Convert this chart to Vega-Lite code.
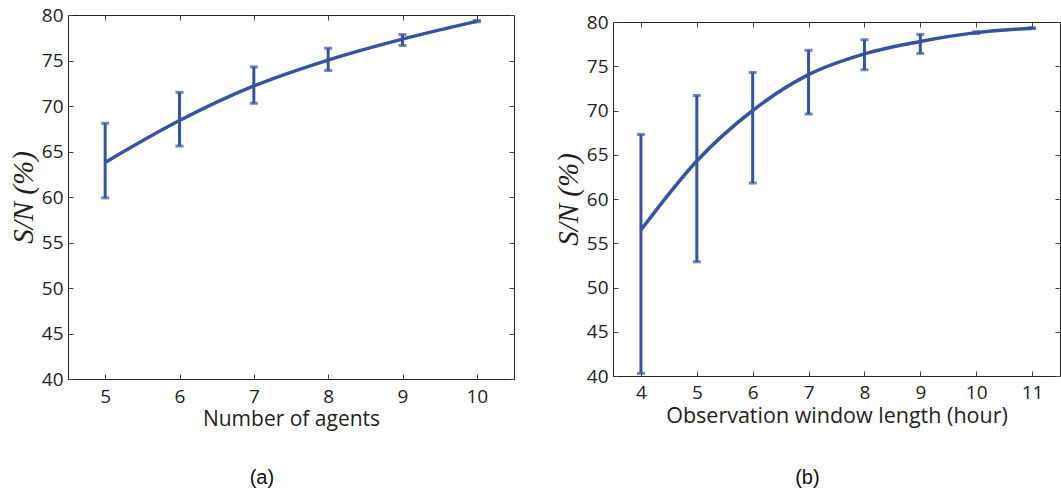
{
  "$schema": "https://vega.github.io/schema/vega-lite/v6.json",
  "padding": {"left": 8, "top": 5, "right": 0, "bottom": 0},
  "datasets": {
    "agents": [
      {"x": 5, "mean": 63.8, "lo": 59.9, "hi": 68.1},
      {"x": 6, "mean": 68.4, "lo": 65.6, "hi": 71.5},
      {"x": 7, "mean": 72.2, "lo": 70.3, "hi": 74.3},
      {"x": 8, "mean": 75.05, "lo": 73.9, "hi": 76.35},
      {"x": 9, "mean": 77.35, "lo": 76.65, "hi": 77.85},
      {"x": 10, "mean": 79.3, "lo": 79.25, "hi": 79.4}
    ],
    "window": [
      {"x": 4, "mean": 56.5, "lo": 40.3, "hi": 67.3},
      {"x": 5, "mean": 64.3, "lo": 52.9, "hi": 71.7},
      {"x": 6, "mean": 70.0, "lo": 61.8, "hi": 74.3},
      {"x": 7, "mean": 74.05, "lo": 69.6, "hi": 76.8},
      {"x": 8, "mean": 76.4, "lo": 74.6, "hi": 78.0},
      {"x": 9, "mean": 77.8, "lo": 76.45, "hi": 78.6},
      {"x": 10, "mean": 78.8, "lo": 78.7, "hi": 78.9},
      {"x": 11, "mean": 79.3, "lo": 79.25, "hi": 79.35}
    ]
  },
  "spacing": 38,
  "hconcat": [
    {
      "width": 446,
      "height": 364,
      "data": {"name": "agents"},
      "title": {"text": "(a)", "orient": "bottom", "anchor": "middle", "frame": "bounds", "font": "Liberation Sans", "fontSize": 20, "fontWeight": "normal", "color": "#111", "offset": 39},
      "resolve": {"axis": {"x": "independent", "y": "independent"}},
      "layer": [
        {
          "mark": {"type": "rule", "color": "#3653a5", "strokeWidth": 3},
          "encoding": {
            "x": {"field": "x", "type": "quantitative", "scale": {"domain": [4.5, 10.5], "nice": false},
              "axis": {"title": "Number of agents", "values": [5, 6, 7, 8, 9, 10], "grid": false, "domain": false, "tickSize": -5, "tickColor": "#444", "labelPadding": 13, "labelFont": "Open Sans", "labelFontSize": 19, "labelColor": "#231f20", "titleFont": "Open Sans", "titleFontSize": 21, "titleFontWeight": "normal", "titleColor": "#231f20", "titlePadding": 2}},
            "y": {"field": "lo", "type": "quantitative", "scale": {"domain": [40, 80], "nice": false, "zero": false},
              "axis": {"title": "S/N (%)", "values": [40, 45, 50, 55, 60, 65, 70, 75, 80], "grid": false, "domain": false, "tickSize": -5, "tickColor": "#444", "labelPadding": 10, "labelFont": "Open Sans", "labelFontSize": 19, "labelColor": "#231f20", "titleFont": "Liberation Serif", "titleFontStyle": "italic", "titleFontSize": 29, "titleFontWeight": "normal", "titleColor": "#231f20", "titlePadding": 3}},
            "y2": {"field": "hi"}
          }
        },
        {
          "mark": {"type": "tick", "color": "#3653a5", "orient": "horizontal", "size": 8, "thickness": 3},
          "encoding": {
            "x": {"field": "x", "type": "quantitative", "axis": null},
            "y": {"field": "lo", "type": "quantitative", "axis": null}
          }
        },
        {
          "mark": {"type": "tick", "color": "#3653a5", "orient": "horizontal", "size": 8, "thickness": 3},
          "encoding": {
            "x": {"field": "x", "type": "quantitative", "axis": null},
            "y": {"field": "hi", "type": "quantitative", "axis": null}
          }
        },
        {
          "mark": {"type": "line", "color": "#3653a5", "strokeWidth": 3.5, "interpolate": "monotone"},
          "encoding": {
            "x": {"field": "x", "type": "quantitative", "axis": {"orient": "top", "title": null, "labels": false, "values": [5, 6, 7, 8, 9, 10], "grid": false, "domain": false, "tickSize": -5, "tickColor": "#444"}},
            "y": {"field": "mean", "type": "quantitative", "axis": {"orient": "right", "title": null, "labels": false, "values": [40, 45, 50, 55, 60, 65, 70, 75, 80], "grid": false, "domain": false, "tickSize": -5, "tickColor": "#444"}}
          }
        }
      ]
    },
    {
      "spacing": 6,
      "bounds": "flush",
      "vconcat": [
        {
          "width": 447,
          "height": 1,
          "view": {"stroke": null},
          "data": {"values": []},
          "mark": "rule",
          "encoding": {}
        },
        {
          "width": 447,
          "height": 354,
          "data": {"name": "window"},
          "title": {"text": "(b)", "orient": "bottom", "anchor": "middle", "frame": "bounds", "font": "Liberation Sans", "fontSize": 20, "fontWeight": "normal", "color": "#111", "offset": 41},
          "resolve": {"axis": {"x": "independent", "y": "independent"}},
          "layer": [
            {
              "mark": {"type": "rule", "color": "#3653a5", "strokeWidth": 3},
              "encoding": {
                "x": {"field": "x", "type": "quantitative", "scale": {"domain": [3.5, 11.5], "nice": false},
                  "axis": {"title": "Observation window length (hour)", "values": [4, 5, 6, 7, 8, 9, 10, 11], "grid": false, "domain": false, "tickSize": -5, "tickColor": "#444", "labelPadding": 12, "labelFont": "Open Sans", "labelFontSize": 19, "labelColor": "#231f20", "titleFont": "Open Sans", "titleFontSize": 21.5, "titleFontWeight": "normal", "titleColor": "#231f20", "titlePadding": 3}},
                "y": {"field": "lo", "type": "quantitative", "scale": {"domain": [40, 80], "nice": false, "zero": false},
                  "axis": {"title": "S/N (%)", "values": [40, 45, 50, 55, 60, 65, 70, 75, 80], "grid": false, "domain": false, "tickSize": -5, "tickColor": "#444", "labelPadding": 10, "labelFont": "Open Sans", "labelFontSize": 19, "labelColor": "#231f20", "titleFont": "Liberation Serif", "titleFontStyle": "italic", "titleFontSize": 29, "titleFontWeight": "normal", "titleColor": "#231f20", "titlePadding": 3}},
                "y2": {"field": "hi"}
              }
            },
            {
              "mark": {"type": "tick", "color": "#3653a5", "orient": "horizontal", "size": 8, "thickness": 3},
              "encoding": {
                "x": {"field": "x", "type": "quantitative", "axis": null},
                "y": {"field": "lo", "type": "quantitative", "axis": null}
              }
            },
            {
              "mark": {"type": "tick", "color": "#3653a5", "orient": "horizontal", "size": 8, "thickness": 3},
              "encoding": {
                "x": {"field": "x", "type": "quantitative", "axis": null},
                "y": {"field": "hi", "type": "quantitative", "axis": null}
              }
            },
            {
              "mark": {"type": "line", "color": "#3653a5", "strokeWidth": 3.5, "interpolate": "monotone"},
              "encoding": {
                "x": {"field": "x", "type": "quantitative", "axis": {"orient": "top", "title": null, "labels": false, "values": [4, 5, 6, 7, 8, 9, 10, 11], "grid": false, "domain": false, "tickSize": -5, "tickColor": "#444"}},
                "y": {"field": "mean", "type": "quantitative", "axis": {"orient": "right", "title": null, "labels": false, "values": [40, 45, 50, 55, 60, 65, 70, 75, 80], "grid": false, "domain": false, "tickSize": -5, "tickColor": "#444"}}
              }
            }
          ]
        }
      ]
    }
  ],
  "config": {
    "view": {"stroke": "#222", "strokeWidth": 1},
    "background": "white"
  }
}
